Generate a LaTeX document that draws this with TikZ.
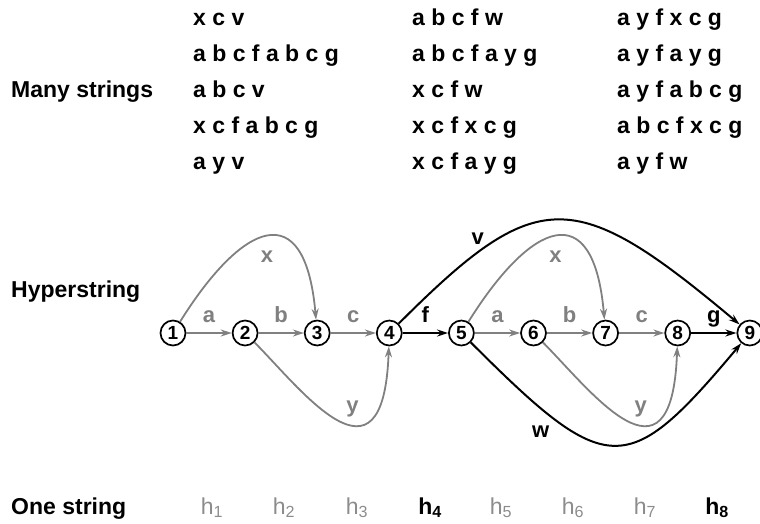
\documentclass[tikz,border=0pt]{standalone}
\usepackage{fontspec}
\setmainfont{Liberation Sans}
\usetikzlibrary{arrows.meta}
\begin{document}
\begin{tikzpicture}[x=1pt,y=1pt,
    state/.style={circle,draw,line width=1.7pt,minimum size=25pt,inner sep=0pt,
        font=\fontsize{19}{19}\selectfont\bfseries},
    txt/.style={anchor=base west,inner sep=0pt,font=\fontsize{23}{27}\selectfont\bfseries},
    lbl/.style={font=\fontsize{22}{24}\selectfont\bfseries,text=gray},
    blbl/.style={lbl,text=black},
    sym/.style={lbl,anchor=base,yshift=11pt},
    hlbl/.style={anchor=base,font=\fontsize{23}{26}\selectfont,text=black!45},
    hblbl/.style={hlbl,text=black,font=\fontsize{23}{26}\selectfont\bfseries},
    gedge/.style={draw=gray,line width=1.8pt,-{Stealth[length=11pt,width=7pt]}},
    bedge/.style={gedge,draw=black,line width=2pt}]
\useasboundingbox (0,0) rectangle (760,-523);

% the many strings
\node[txt] (r1c1) at (193,-25) {x c v};
\node[txt] (r2c1) at (193,-61) {a b c f a b c g};
\node[txt] (r3c1) at (193,-97) {a b c v};
\node[txt] (r4c1) at (193,-133) {x c f a b c g};
\node[txt] (r5c1) at (193,-169) {a y v};
\node[txt] (r1c2) at (412,-25) {a b c f w};
\node[txt] (r2c2) at (412,-61) {a b c f a y g};
\node[txt] (r3c2) at (412,-97) {x c f w};
\node[txt] (r4c2) at (412,-133) {x c f x c g};
\node[txt] (r5c2) at (412,-169) {x c f a y g};
\node[txt] (r1c3) at (617,-25) {a y f x c g};
\node[txt] (r2c3) at (617,-61) {a y f a y g};
\node[txt] (r3c3) at (617,-97) {a y f a b c g};
\node[txt] (r4c3) at (617,-133) {a b c f x c g};
\node[txt] (r5c3) at (617,-169) {a y f w};

\node[txt] (many) at (11,-97) {Many strings};
\node[txt] (hyper) at (11,-297) {Hyperstring};
\node[txt] (one) at (11,-514) {One string};

% the hyperstring
\foreach \i in {1,...,9}
    \node[state] (n\i) at ({173+72.1*(\i-1)},-333) {\i};

\draw[gedge] (n1) -- node[sym] {a} (n2);
\draw[gedge] (n2) -- node[sym] {b} (n3);
\draw[gedge] (n3) -- node[sym] {c} (n4);
\draw[bedge] (n4) -- node[sym,text=black] {f} (n5);
\draw[gedge] (n5) -- node[sym] {a} (n6);
\draw[gedge] (n6) -- node[sym] {b} (n7);
\draw[gedge] (n7) -- node[sym] {c} (n8);
\draw[bedge] (n8) -- node[sym,text=black] {g} (n9);

\draw[gedge] (n1) .. controls +(58:130) and +(95:140) .. node[lbl,pos=.5,below=10pt] {x} (n3);
\draw[gedge] (n2) .. controls +(-45:78) and +(-92:167) .. node[lbl,pos=.6,above=3pt] {y} (n4);
\draw[gedge] (n5) .. controls +(58:130) and +(95:140) .. node[lbl,pos=.5,below=10pt] {x} (n7);
\draw[gedge] (n6) .. controls +(-45:78) and +(-92:167) .. node[lbl,pos=.6,above=3pt] {y} (n8);

\draw[bedge] (n4) .. controls +(45:209) and +(140:230) .. node[blbl,pos=.22,above=4pt] {v} (n9);
\draw[bedge] (n5) .. controls +(-45:207) and +(-130:191) .. node[blbl,pos=.2,below=13pt] {w} (n9);

% one string
\node[hlbl] (h1) at (212,-514) {h\textsubscript{1}};
\node[hlbl] (h2) at (284,-514) {h\textsubscript{2}};
\node[hlbl] (h3) at (357,-514) {h\textsubscript{3}};
\node[hblbl] (h4) at (430,-514) {h\textsubscript{4}};
\node[hlbl] (h5) at (501,-514) {h\textsubscript{5}};
\node[hlbl] (h6) at (573,-514) {h\textsubscript{6}};
\node[hlbl] (h7) at (645,-514) {h\textsubscript{7}};
\node[hblbl] (h8) at (717,-514) {h\textsubscript{8}};
\end{tikzpicture}
\end{document}
